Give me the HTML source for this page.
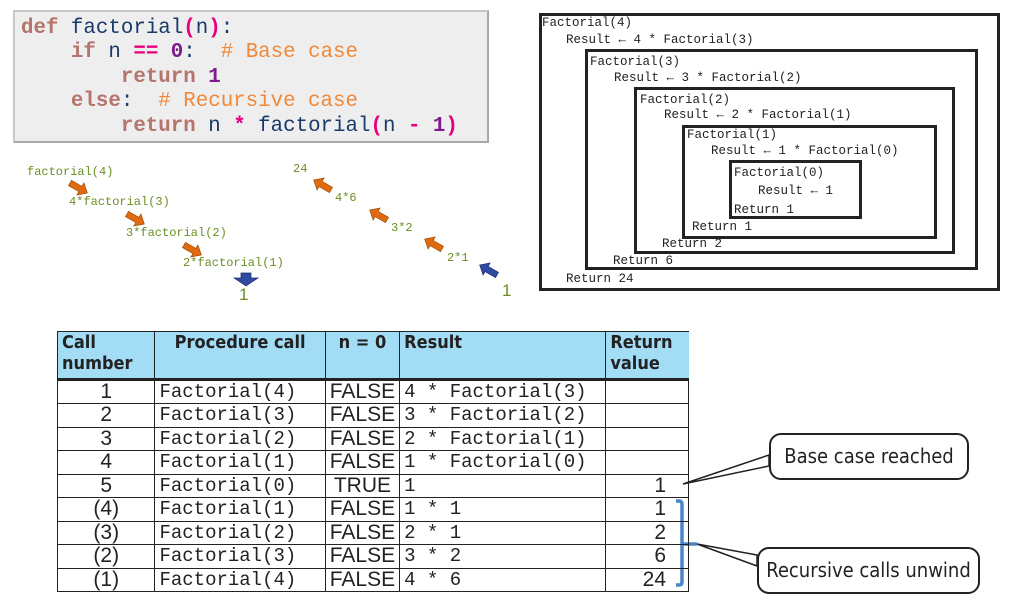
<!DOCTYPE html>
<html><head><meta charset="utf-8"><style>
*{margin:0;padding:0;box-sizing:border-box}
body{width:1011px;height:613px;background:#fff;position:relative;overflow:hidden;font-family:"Liberation Sans",sans-serif}
.code{position:absolute;left:13px;top:10px;width:476px;height:133px;background:#eeeeee;border:2px solid #a8a8a8;border-top-color:#c8c8c8;border-left-color:#c8c8c8}
.cl{position:absolute;left:6px;font:20.8px/24.6px "Liberation Mono",monospace;white-space:pre;color:#1a3a6a}
.k{color:#b5746c;font-weight:bold}.o{color:#e6007e;font-weight:bold}.n{color:#7b1d8a;font-weight:bold}.c{color:#f0883a}
.g{position:absolute;font:12px "Liberation Mono",monospace;color:#6b8e23;white-space:pre}
.bx{position:absolute;border:3px solid #222}
.m{position:absolute;font:12.5px "Liberation Mono",monospace;color:#222;white-space:pre}
table{position:absolute;left:57px;top:331px;border-collapse:collapse;width:632px}
td,th{border:1px solid #222;height:23.5px;padding:0 4px;font-size:19px}
th{background:#a3dcf5;font:bold 18px/21px "DejaVu Sans Condensed","Liberation Sans Narrow",sans-serif;text-align:left;vertical-align:top;height:48px;border-bottom:3px solid #222;color:#222}
td{font-family:"Liberation Mono",monospace;color:#222;line-height:22px}
td.s{font-family:"Liberation Sans Narrow","Liberation Sans",sans-serif;font-size:21px}
.call{position:absolute;border:2px solid #222;border-radius:12px;background:#fff;font:20px "DejaVu Sans Condensed","Liberation Sans",sans-serif;color:#222;text-align:center}
</style></head><body>
<div class="code">
<div class="cl" style="top:5px"><span class="k">def</span> factorial<span class="o">(</span>n<span class="o">)</span>:</div>
<div class="cl" style="top:29px">    <span class="k">if</span> n <span class="o">==</span> <span class="n">0</span>:  <span class="c"># Base case</span></div>
<div class="cl" style="top:54px">        <span class="k">return</span> <span class="n">1</span></div>
<div class="cl" style="top:78px">    <span class="k">else</span>:  <span class="c"># Recursive case</span></div>
<div class="cl" style="top:103px">        <span class="k">return</span> n <span class="o">*</span> factorial<span class="o">(</span>n <span class="o">-</span> <span class="n">1</span><span class="o">)</span></div>
</div>

<div class="g" style="left:27px;top:165px">factorial(4)</div>
<div class="g" style="left:69px;top:195px">4*factorial(3)</div>
<div class="g" style="left:126px;top:226px">3*factorial(2)</div>
<div class="g" style="left:183px;top:256px">2*factorial(1)</div>
<div class="g" style="left:239px;top:285px;font:17px 'Liberation Sans',sans-serif">1</div>
<div class="g" style="left:293px;top:162px">24</div>
<div class="g" style="left:335px;top:191px">4*6</div>
<div class="g" style="left:391px;top:221px">3*2</div>
<div class="g" style="left:447px;top:251px">2*1</div>
<div class="g" style="left:502px;top:281px;font:17px 'Liberation Sans',sans-serif">1</div>

<svg width="1011" height="613" style="position:absolute;left:0;top:0">
<defs><g id="ar"><polygon points="0,-3 12,-3 12,-7 20,0 12,7 12,3 0,3"/></g></defs>
<g fill="#e06a10" stroke="#a04a00" stroke-width="0.7">
<use href="#ar" transform="translate(70,183) rotate(30)"/>
<use href="#ar" transform="translate(127,214) rotate(30)"/>
<use href="#ar" transform="translate(184,245) rotate(30)"/>
<use href="#ar" transform="translate(331,190) rotate(210)"/>
<use href="#ar" transform="translate(387,220) rotate(210)"/>
<use href="#ar" transform="translate(442,249) rotate(210)"/>
</g>
<g fill="#2f4aa0" stroke="#1a2e70" stroke-width="0.7">
<polygon points="241,273 251,273 251,278 258,278 246,286 234,278 241,278"/>
<use href="#ar" transform="translate(497,275) rotate(210)"/>
</g>
<polygon points="769,455 683,484 769,466" fill="#fff" stroke="#222" stroke-width="1.5"/>
<polygon points="757,555 697,544 757,566" fill="#fff" stroke="#222" stroke-width="1.5"/>
<path d="M676,501 H679 Q682,501 682,504 V582 Q682,585 679,585 H676 M682,544 H697" fill="none" stroke="#4a86c8" stroke-width="3.5"/>
</svg>

<div class="bx" style="left:539px;top:13px;width:461px;height:278px"></div>
<div class="bx" style="left:585px;top:49px;width:393px;height:221px"></div>
<div class="bx" style="left:634px;top:87px;width:321px;height:167px"></div>
<div class="bx" style="left:682px;top:125px;width:255px;height:114px"></div>
<div class="bx" style="left:729px;top:160px;width:133px;height:59px"></div>
<div class="m" style="left:542px;top:16px">Factorial(4)</div>
<div class="m" style="left:566px;top:33px">Result ← 4 * Factorial(3)</div>
<div class="m" style="left:590px;top:55px">Factorial(3)</div>
<div class="m" style="left:614px;top:71px">Result ← 3 * Factorial(2)</div>
<div class="m" style="left:640px;top:93px">Factorial(2)</div>
<div class="m" style="left:664px;top:108px">Result ← 2 * Factorial(1)</div>
<div class="m" style="left:687px;top:128px">Factorial(1)</div>
<div class="m" style="left:711px;top:144px">Result ← 1 * Factorial(0)</div>
<div class="m" style="left:734px;top:166px">Factorial(0)</div>
<div class="m" style="left:758px;top:184px">Result ← 1</div>
<div class="m" style="left:734px;top:203px">Return 1</div>
<div class="m" style="left:692px;top:220px">Return 1</div>
<div class="m" style="left:662px;top:237px">Return 2</div>
<div class="m" style="left:613px;top:254px">Return 6</div>
<div class="m" style="left:566px;top:272px">Return 24</div>

<table>
<colgroup><col style="width:98px"><col style="width:171px"><col style="width:72px"><col style="width:208px"><col style="width:83px"></colgroup>
<tr><th>Call<br>number</th><th style="text-align:center">Procedure call</th><th style="text-align:center">n = 0</th><th>Result</th><th style="border-right:none">Return<br>value</th></tr>
<tr><td class="s" style="text-align:center">1</td><td>Factorial(4)</td><td class="s">FALSE</td><td>4 * Factorial(3)</td><td></td></tr>
<tr><td class="s" style="text-align:center">2</td><td>Factorial(3)</td><td class="s">FALSE</td><td>3 * Factorial(2)</td><td></td></tr>
<tr><td class="s" style="text-align:center">3</td><td>Factorial(2)</td><td class="s">FALSE</td><td>2 * Factorial(1)</td><td></td></tr>
<tr><td class="s" style="text-align:center">4</td><td>Factorial(1)</td><td class="s">FALSE</td><td>1 * Factorial(0)</td><td></td></tr>
<tr><td class="s" style="text-align:center">5</td><td>Factorial(0)</td><td class="s" style="text-align:center">TRUE</td><td>1</td><td class="s" style="text-align:right;padding-right:22px">1</td></tr>
<tr><td class="s" style="text-align:center">(4)</td><td>Factorial(1)</td><td class="s">FALSE</td><td>1 * 1</td><td class="s" style="text-align:right;padding-right:22px">1</td></tr>
<tr><td class="s" style="text-align:center">(3)</td><td>Factorial(2)</td><td class="s">FALSE</td><td>2 * 1</td><td class="s" style="text-align:right;padding-right:22px">2</td></tr>
<tr><td class="s" style="text-align:center">(2)</td><td>Factorial(3)</td><td class="s">FALSE</td><td>3 * 2</td><td class="s" style="text-align:right;padding-right:22px">6</td></tr>
<tr><td class="s" style="text-align:center">(1)</td><td>Factorial(4)</td><td class="s">FALSE</td><td>4 * 6</td><td class="s" style="text-align:right;padding-right:22px">24</td></tr>
</table>

<div class="call" style="left:769px;top:433px;width:200px;height:47px;line-height:43px">Base case reached</div>
<div class="call" style="left:757px;top:547px;width:223px;height:47px;line-height:43px">Recursive calls unwind</div>
</body></html>
